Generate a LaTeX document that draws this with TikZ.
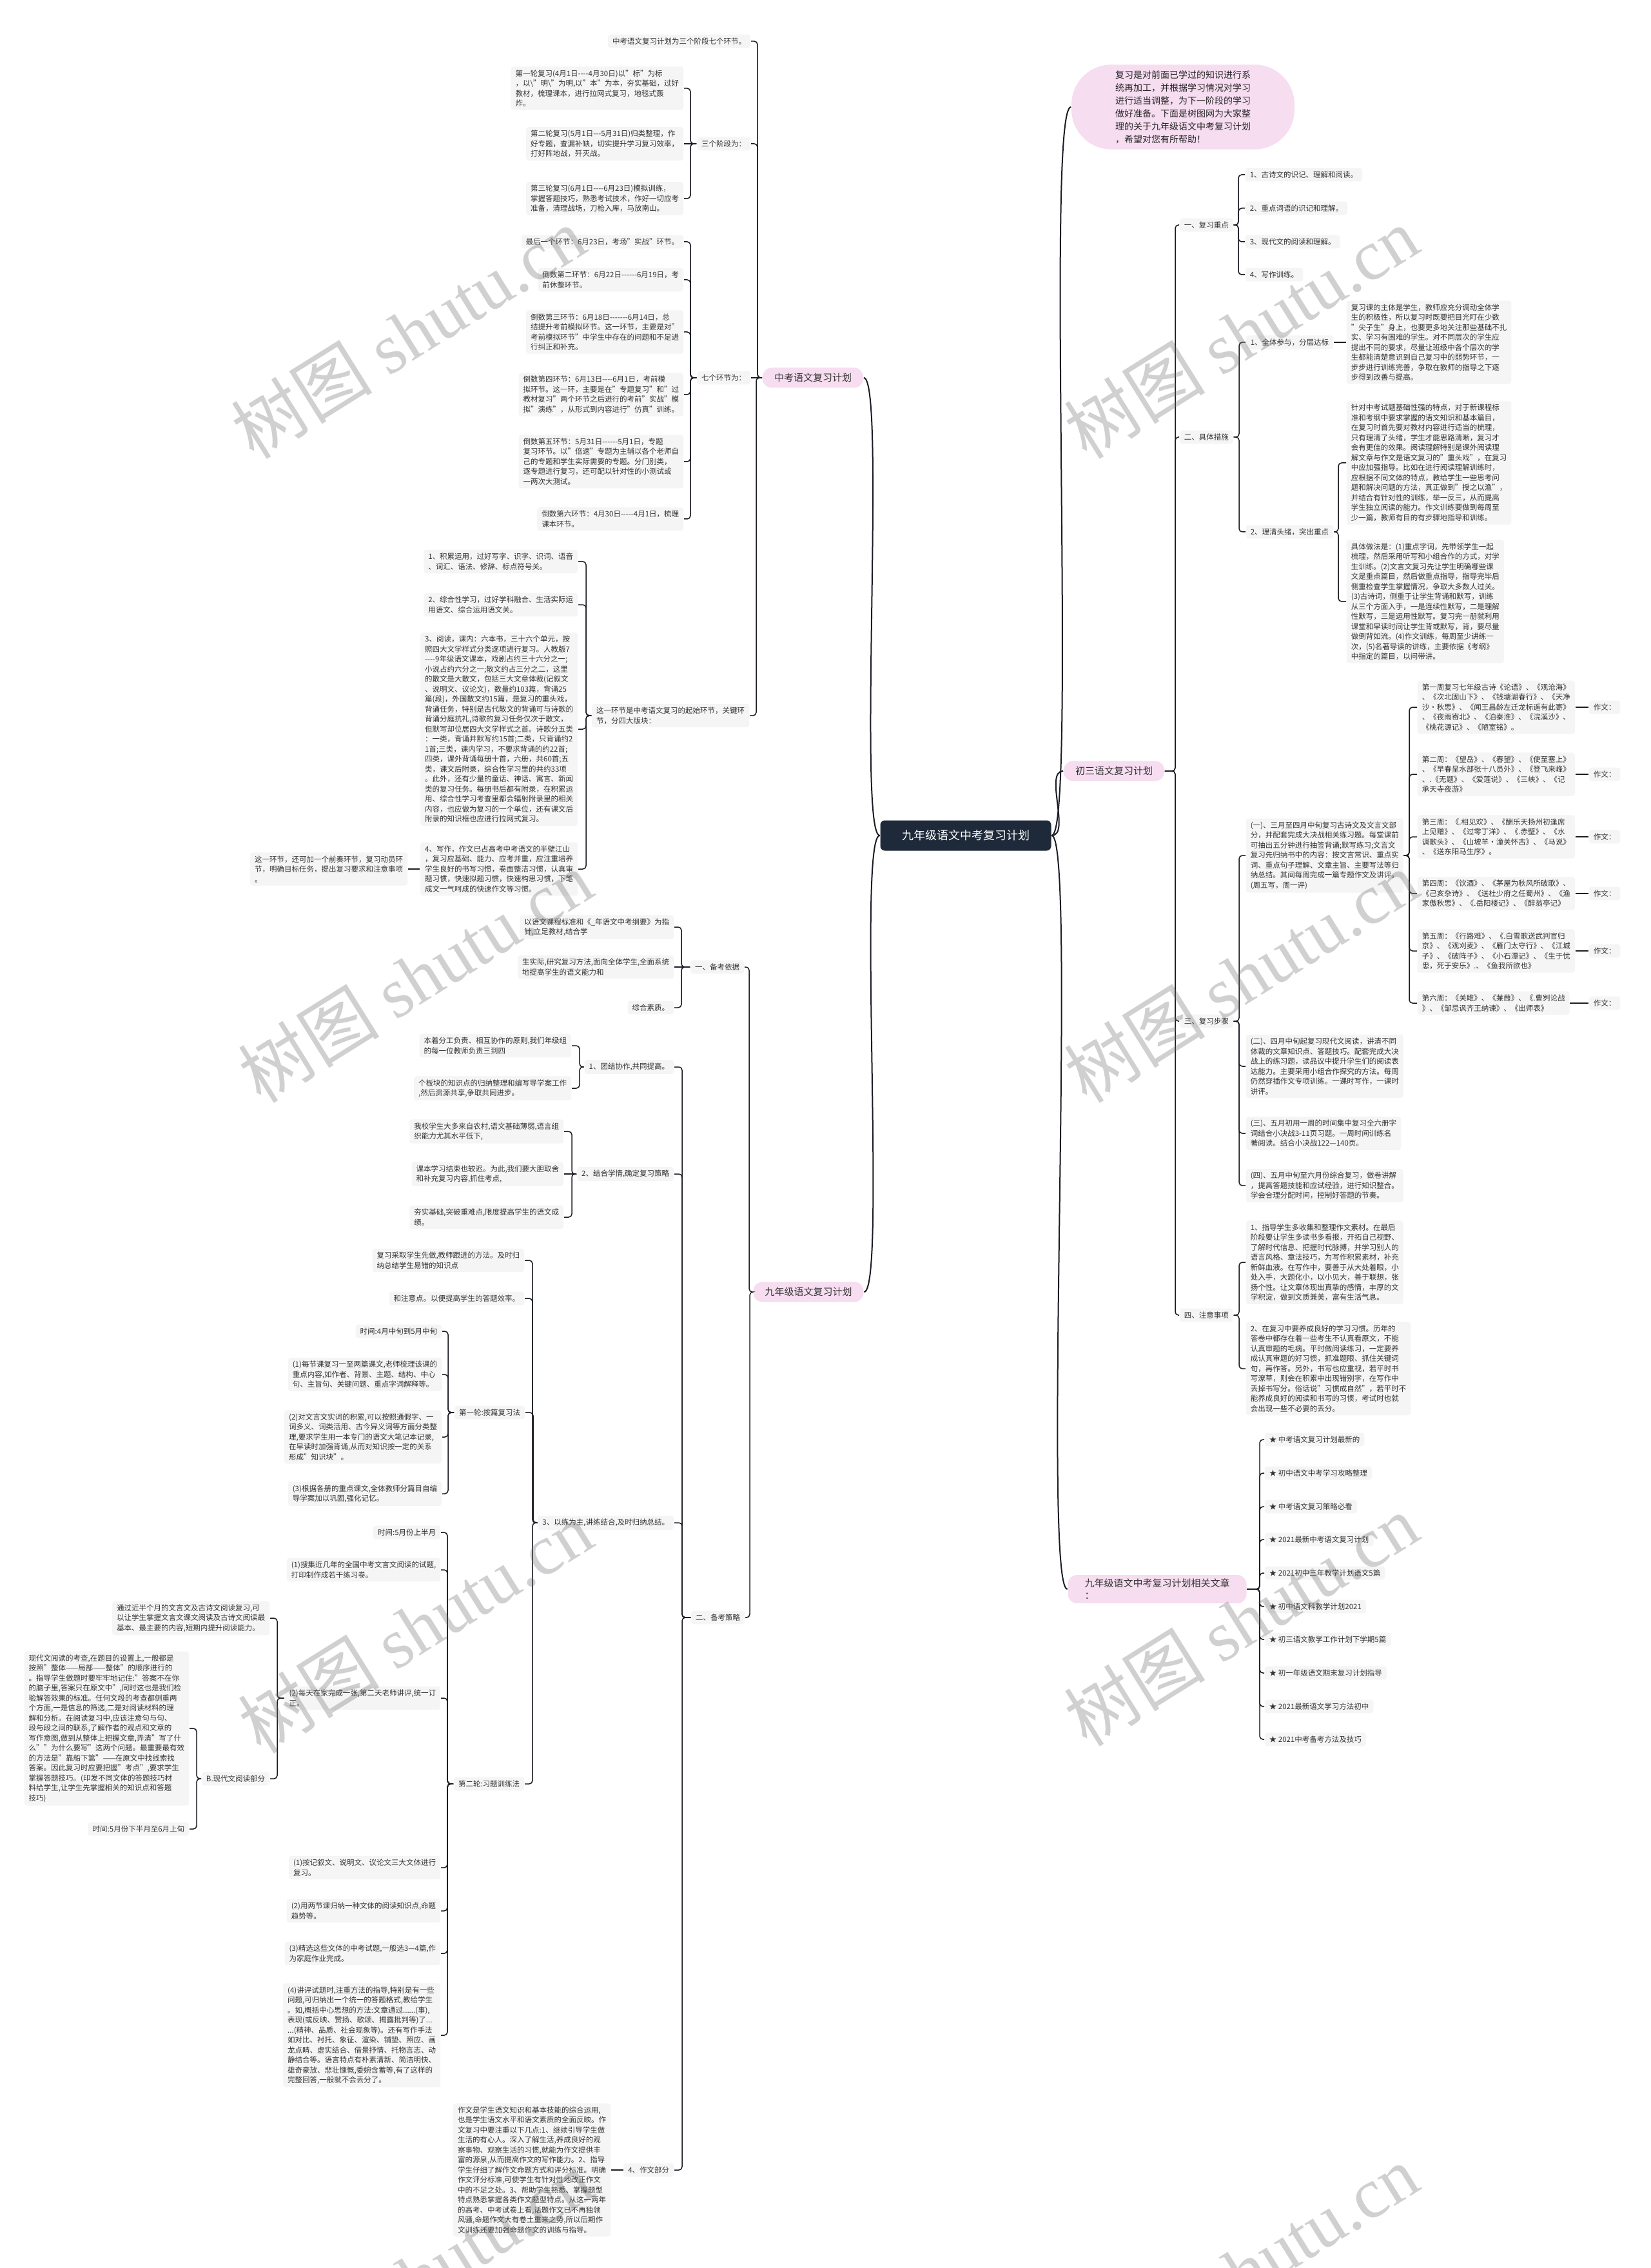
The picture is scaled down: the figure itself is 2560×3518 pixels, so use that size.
\documentclass[tikz,border=0pt]{standalone}
\usepackage{fontspec}
\setmainfont{Noto Sans CJK SC}
\newfontfamily\wmfont{Liberation Serif}
\usepackage{tikz}
\definecolor{leafc}{HTML}{F5F5F5}
\definecolor{pinkc}{HTML}{F6DDF0}
\definecolor{rootc}{HTML}{1E2A3A}
\definecolor{linec}{HTML}{1A1D24}
\definecolor{txtc}{HTML}{333333}
\begin{document}
\begin{tikzpicture}[x=0.25pt, y=-0.25pt,
    leaf/.style={fill=leafc, text=txtc, rounded corners=1pt, inner xsep=1.75pt, inner ysep=1.25pt, align=left, font=\fontsize{2.875}{3.875}\selectfont},
    lfl/.style={leaf, anchor=east},
    lfr/.style={leaf, anchor=west},
    branch/.style={fill=pinkc, text=txtc, rounded corners=3.5pt, inner xsep=4.5pt, inner ysep=1.5pt, minimum height=7.75pt, align=left, font=\fontsize{3.75}{4.75}\selectfont},
    topic/.style={fill=rootc, text=white, rounded corners=1.75pt, minimum width=66.25pt, minimum height=11.75pt, font=\fontsize{4.5}{5.5}\selectfont},
    intro/.style={fill=pinkc, text=black!85, rounded corners=15.5pt, inner xsep=17pt, inner ysep=2.25pt, align=left, font=\fontsize{3.5}{5}\selectfont},
    every edge/.style={draw=linec, line width=0.375pt, rounded corners=1.25pt},
    toL/.style={to path={(\tikztostart.west) -| ([xshift=0.25*#1]\tikztotarget.east) -- (\tikztotarget.east)}},
    toR/.style={to path={(\tikztostart.east) -| ([xshift=-0.25*#1]\tikztotarget.west) -- (\tikztotarget.west)}},
    sL/.style={to path={(\tikztostart.west) -- (\tikztotarget.east)}},
    sR/.style={to path={(\tikztostart.east) -- (\tikztotarget.west)}},
    rootL/.style={line width=0.5pt, to path={(\tikztostart.west) .. controls ([xshift=-0.25*#1]\tikztostart.west) and ([xshift=0.25*#1]\tikztotarget.east) .. (\tikztotarget.east)}},
    rootR/.style={line width=0.5pt, to path={(\tikztostart.east) .. controls ([xshift=0.25*#1]\tikztostart.east) and ([xshift=-0.25*#1]\tikztotarget.west) .. (\tikztotarget.west)}},
    wmark/.style={rotate=32, text=black!60, text opacity=0.3, font=\fontsize{27.5}{30}\selectfont}]
\useasboundingbox (0,0) rectangle (2560,3518);
\fill[white] (0,0) rectangle (2560,3518);
\node[topic] (root) at (1498,1296) {九年级语文中考复习计划};
\node[branch] (zk) at (1261,586) {中考语文复习计划};
\node[branch] (jn) at (1254,2004) {九年级语文复习计划};
\node[branch] (cs) at (1728,1196) {初三语文复习计划};
\node[branch, inner xsep=6.5pt] (xg) at (1795,2465) {九年级语文中考复习计划相关文章\\：};
\node[intro] (yin) at (1835,166) {复习是对前面已学过的知识进行系\\统再加工，并根据学习情况对学习\\进行适当调整，为下一阶段的学习\\做好准备。下面是树图网为大家整\\理的关于九年级语文中考复习计划\\，希望对您有所帮助！};
\node[lfl] (zka) at (1165,64) {中考语文复习计划为三个阶段七个环节。};
\node[lfl] (zkb) at (1165,223) {三个阶段为：};
\node[lfl] (zkc) at (1165,586) {七个环节为：};
\node[lfl] (zkd) at (1163,1110) {这一环节是中考语文复习的起始环节，关键环\\节，分四大版块：};
\node[lfl] (b1) at (1061,137) {第一轮复习(4月1日-{}-{}-{}-4月30日)以"标"为标\\，以\textbackslash"明\textbackslash"为明,以"本"为本，夯实基础，过好\\教材，梳理课本，进行拉网式复习，地毯式轰\\炸。};
\node[lfl] (b2) at (1061,223) {第二轮复习(5月1日-{}-{}-5月31日)归类整理，作\\好专题，查漏补缺，切实提升学习复习效率，\\打好阵地战，歼灭战。};
\node[lfl] (b3) at (1061,308) {第三轮复习(6月1日-{}-{}-{}-6月23日)模拟训练，\\掌握答题技巧，熟悉考试技术，作好一切应考\\准备，清理战场，刀枪入库，马放南山。};
\node[lfl] (c1) at (1061,375) {最后一个环节：6月23日，考场"实战"环节。};
\node[lfl] (c2) at (1061,434) {倒数第二环节：6月22日-{}-{}-{}-{}-{}-6月19日，考\\前休整环节。};
\node[lfl] (c3) at (1061,515) {倒数第三环节：6月18日-{}-{}-{}-{}-{}-{}-6月14日，总\\结提升考前模拟环节。这一环节，主要是对"\\考前模拟环节"中学生中存在的问题和不足进\\行纠正和补充。};
\node[lfl] (c4) at (1061,612) {倒数第四环节：6月13日-{}-{}-{}-6月1日，考前模\\拟环节。这一环，主要是在"专题复习"和"过\\教材复习"两个环节之后进行的考前"实战"模\\拟"演练"，从形式到内容进行"仿真"训练。};
\node[lfl] (c5) at (1061,716) {倒数第五环节：5月31日-{}-{}-{}-{}-{}-5月1日，专题\\复习环节。以"倍速"专题为主辅以各个老师自\\己的专题和学生实际需要的专题。分门别类，\\逐专题进行复习，还可配以针对性的小测试或\\一两次大测试。};
\node[lfl] (c6) at (1061,805) {倒数第六环节：4月30日-{}-{}-{}-{}-4月1日，梳理\\课本环节。};
\node[lfl] (d1) at (897,871) {1、积累运用，过好写字、识字、识词、语音\\、词汇、语法、修辞、标点符号关。};
\node[lfl] (d2) at (897,938) {2、综合性学习，过好学科融合、生活实际运\\用语文、综合运用语文关。};
\node[lfl] (d3) at (897,1131) {3、阅读，课内：六本书，三十六个单元，按\\照四大文学样式分类逐项进行复习。人教版7\\-{}-{}-{}-9年级语文课本，戏剧占约三十六分之一;\\小说占约六分之一;散文约占三分之二，这里\\的散文是大散文，包括三大文章体裁(记叙文\\、说明文、议论文)，数量约103篇，背诵25\\篇(段)，外国散文约15篇，是复习的重头戏，\\背诵任务，特别是古代散文的背诵可与诗歌的\\背诵分庭抗礼,诗歌的复习任务仅次于散文，\\但默写却位居四大文学样式之首。诗歌分五类\\：一类，背诵并默写约15首;二类，只背诵约2\\1首;三类，课内学习，不要求背诵的约22首;\\四类，课外背诵每册十首，六册，共60首;五\\类，课文后附录，综合性学习里的共约33项\\。此外，还有少量的童话、神话、寓言、新闻\\类的复习任务。每册书后都有附录，在积累运\\用、综合性学习考查里都会辐射附录里的相关\\内容，也应做为复习的一个单位，还有课文后\\附录的知识框也应进行拉网式复习。};
\node[lfl] (d4) at (897,1348) {4、写作，作文已占高考中考语文的半壁江山\\，复习应基础、能力、应考并重，应注重培养\\学生良好的书写习惯，卷面整洁习惯，认真审\\题习惯，快速拟题习惯，快速构思习惯，下笔\\成文一气呵成的快速作文等习惯。};
\node[lfl] (d5) at (633,1348) {这一环节，还可加一个前奏环节，复习动员环\\节，明确目标任务，提出复习要求和注意事项\\。};
\node[lfl] (jna) at (1155,1500) {一、备考依据};
\node[lfl] (jnb) at (1156,2509) {二、备考策略};
\node[lfl] (e1) at (1046,1438) {以语文课程标准和《\_年语文中考纲要》为指\\针,立足教材,结合学};
\node[lfl] (e2) at (1046,1500) {生实际,研究复习方法,面向全体学生,全面系统\\地提高学生的语文能力和};
\node[lfl] (e3) at (1046,1563) {综合素质。};
\node[lfl] (f1) at (1046,1655) {1、团结协作,共同提高。};
\node[lfl] (f2) at (1046,1821) {2、结合学情,确定复习策略};
\node[lfl] (f3) at (1046,2362) {3、以练为主,讲练结合,及时归纳总结。};
\node[lfl] (f4) at (1046,3366) {4、作文部分};
\node[lfl] (f1a) at (887,1622) {本着分工负责、相互协作的原则,我们年级组\\的每一位教师负责三到四};
\node[lfl] (f1b) at (887,1688) {个板块的知识点的归纳整理和编写导学案工作\\,然后资源共享,争取共同进步。};
\node[lfl] (f2a) at (875,1755) {我校学生大多来自农村,语文基础薄弱,语言组\\织能力尤其水平低下,};
\node[lfl] (f2b) at (875,1821) {课本学习结束也较迟。为此,我们要大胆取舍\\和补充复习内容,抓住考点,};
\node[lfl] (f2c) at (875,1888) {夯实基础,突破重难点,限度提高学生的语文成\\绩。};
\node[lfl] (h1) at (814,1955) {复习采取学生先做,教师跟进的方法。及时归\\纳总结学生易错的知识点};
\node[lfl] (h2) at (814,2014) {和注意点。以便提高学生的答题效率。};
\node[lfl] (h3) at (815,2191) {第一轮:按篇复习法};
\node[lfl] (h4) at (814,2767) {第二轮:习题训练法};
\node[lfl] (i0) at (686,2065) {时间:4月中旬到5月中旬};
\node[lfl] (i1) at (686,2132) {(1)每节课复习一至两篇课文,老师梳理该课的\\重点内容,如作者、背景、主题、结构、中心\\句、主旨句、关键问题、重点字词解释等。};
\node[lfl] (i2) at (686,2229) {(2)对文言文实词的积累,可以按照通假字、一\\词多义、词类活用、古今异义词等方面分类整\\理,要求学生用一本专门的语文大笔记本记录,\\在早读时加强背诵,从而对知识按一定的关系\\形成"知识块"。};
\node[lfl] (i3) at (686,2317) {(3)根据各册的重点课文,全体教师分篇目自编\\导学案加以巩固,强化记忆。};
\node[lfl] (j0) at (684,2377) {时间:5月份上半月};
\node[lfl] (j1) at (684,2435) {(1)搜集近几年的全国中考文言文阅读的试题,\\打印制作成若干练习卷。};
\node[lfl] (j2) at (684,2634) {(2)每天在家完成一张,第二天老师讲评,统一订\\正。};
\node[lfl] (k1) at (419,2510) {通过近半个月的文言文及古诗文阅读复习,可\\以让学生掌握文言文课文阅读及古诗文阅读最\\基本、最主要的内容,短期内提升阅读能力。};
\node[lfl] (k2) at (419,2759) {B.现代文阅读部分};
\node[lfl] (l1) at (294,2681) {现代文阅读的考查,在题目的设置上,一般都是\\按照"整体——局部——整体"的顺序进行的\\。指导学生做题时要牢牢地记住:"答案不在你\\的脑子里,答案只在原文中",同时这也是我们检\\验解答效果的标准。任何文段的考查都侧重两\\个方面,一是信息的筛选,二是对阅读材料的理\\解和分析。在阅读复习中,应该注意句与句、\\段与段之间的联系,了解作者的观点和文章的\\写作意图,做到从整体上把握文章,弄清"写了什\\么""为什么要写"这两个问题。最重要最有效\\的方法是"靠船下篙"——在原文中找线索找\\答案。因此复习时应要把握"考点",要求学生\\掌握答题技巧。(印发不同文体的答题技巧材\\料给学生,让学生先掌握相关的知识点和答题\\技巧)};
\node[lfl] (l2) at (294,2837) {时间:5月份下半月至6月上旬};
\node[lfl] (m1) at (684,2897) {(1)按记叙文、说明文、议论文三大文体进行\\复习。};
\node[lfl] (m2) at (684,2964) {(2)用两节课归纳一种文体的阅读知识点,命题\\趋势等。};
\node[lfl] (m3) at (684,3030) {(3)精选这些文体的中考试题,一般选3—4篇,作\\为家庭作业完成。};
\node[lfl] (m4) at (684,3157) {(4)讲评试题时,注重方法的指导,特别是有一些\\问题,可归纳出一个统一的答题格式,教给学生\\。如,概括中心思想的方法:文章通过......(事),\\表现(或反映、赞扬、歌颂、揭露批判等)了...\\...(精神、品质、社会现象等)。还有写作手法\\如对比、衬托、象征、渲染、铺垫、照应、画\\龙点睛、虚实结合、借景抒情、托物言志、动\\静结合等。语言特点有朴素清新、简洁明快、\\雄奇豪放、悲壮慷慨,委婉含蓄等,有了这样的\\完整回答,一般就不会丢分了。};
\node[lfl] (n1) at (948,3366) {作文是学生语文知识和基本技能的综合运用,\\也是学生语文水平和语文素质的全面反映。作\\文复习中要注重以下几点:1、继续引导学生做\\生活的有心人。深入了解生活,养成良好的观\\察事物、观察生活的习惯,就能为作文提供丰\\富的源泉,从而提高作文的写作能力。2、指导\\学生仔细了解作文命题方式和评分标准。明确\\作文评分标准,可使学生有针对性地改正作文\\中的不足之处。3、帮助学生熟悉、掌握题型\\特点熟悉掌握各类作文题型特点。从这一两年\\的高考、中考试卷上看,话题作文已不再独领\\风骚,命题作文大有卷土重来之势,所以后期作\\文训练还要加强命题作文的训练与指导。};
\node[lfr] (cs1) at (1829,349) {一、复习重点};
\node[lfr] (cs2) at (1829,678) {二、具体措施};
\node[lfr] (cs3) at (1829,1584) {三、复习步骤};
\node[lfr] (cs4) at (1829,2040) {四、注意事项};
\node[lfr] (p1) at (1931,271) {1、古诗文的识记、理解和阅读。};
\node[lfr] (p2) at (1931,323) {2、重点词语的识记和理解。};
\node[lfr] (p3) at (1931,375) {3、现代文的阅读和理解。};
\node[lfr] (p4) at (1931,426) {4、写作训练。};
\node[lfr] (q1) at (1932,531) {1、全体参与，分层达标};
\node[lfr] (q2) at (1932,825) {2、理清头绪，突出重点};
\node[lfr] (q1a) at (2088,531) {复习课的主体是学生，教师应充分调动全体学\\生的积极性，所以复习时既要把目光盯在少数\\"尖子生"身上，也要更多地关注那些基础不扎\\实、学习有困难的学生。对不同层次的学生应\\提出不同的要求，尽量让班级中各个层次的学\\生都能清楚意识到自己复习中的弱势环节，一\\步步进行训练完善，争取在教师的指导之下逐\\步得到改善与提高。};
\node[lfr] (q2a) at (2088,718) {针对中考试题基础性强的特点，对于新课程标\\准和考纲中要求掌握的语文知识和基本篇目，\\在复习时首先要对教材内容进行适当的梳理，\\只有理清了头绪，学生才能思路清晰，复习才\\会有更佳的效果。阅读理解特别是课外阅读理\\解文章与作文是语文复习的"重头戏"，在复习\\中应加强指导。比如在进行阅读理解训练时，\\应根据不同文体的特点，教给学生一些思考问\\题和解决问题的方法，真正做到"授之以渔"，\\并结合有针对性的训练，举一反三，从而提高\\学生独立阅读的能力。作文训练要做到每周至\\少一篇，教师有目的有步骤地指导和训练。};
\node[lfr] (q2b) at (2088,933) {具体做法是：(1)重点字词，先带领学生一起\\梳理，然后采用听写和小组合作的方式，对学\\生训练。(2)文言文复习先让学生明确哪些课\\文是重点篇目，然后做重点指导，指导完毕后\\侧重检查学生掌握情况，争取大多数人过关。\\(3)古诗词，侧重于让学生背诵和默写，训练\\从三个方面入手，一是连续性默写，二是理解\\性默写，三是运用性默写。复习完一册就利用\\课堂和早读时间让学生背或默写，背，要尽量\\做倒背如流。(4)作文训练，每周至少讲练一\\次，(5)名著导读的讲练，主要依据《考纲》\\中指定的篇目，以问带讲。};
\node[lfr] (r1) at (1932,1327) {(一)、三月至四月中旬复习古诗文及文言文部\\分，并配套完成大决战相关练习题。每堂课前\\可抽出五分钟进行抽签背诵;默写练习;文言文\\复习先归纳书中的内容：按文言常识、重点实\\词、重点句子理解、文章主旨、主要写法等归\\纳总结。其间每周完成一篇专题作文及讲评。\\(周五写，周一评)};
\node[lfr] (r2) at (1932,1654) {(二)、四月中旬起复习现代文阅读，讲清不同\\体裁的文章知识点、答题技巧。配套完成大决\\战上的练习题，读品议中提升学生们的阅读表\\达能力。主要采用小组合作探究的方法。每周\\仍然穿插作文专项训练。一课时写作，一课时\\讲评。};
\node[lfr] (r3) at (1932,1758) {(三)、五月初用一周的时间集中复习全六册字\\词结合小决战3-11页习题。一周时间训练名\\著阅读。结合小决战122—140页。};
\node[lfr] (r4) at (1932,1839) {(四)、五月中旬至六月份综合复习，做卷讲解\\，提高答题技能和应试经验，进行知识整合。\\学会合理分配时间，控制好答题的节奏。};
\node[lfr] (s1) at (2198,1097) {第一周复习七年级古诗《论语》、《观沧海》\\、《次北固山下》、《钱塘湖春行》、《天净\\沙·秋思》、《闻王昌龄左迁龙标遥有此寄》\\、《夜雨寄北》、《泊秦淮》、《浣溪沙》、\\《桃花源记》、《陋室铭》。};
\node[lfr] (s2) at (2198,1201) {第二周：《望岳》、《春望》、《使至塞上》\\、《早春呈水部张十八员外》、《登飞来峰》\\、.《无题》、《爱莲说》、《三峡》、《记\\承天寺夜游》};
\node[lfr] (s3) at (2198,1298) {第三周：《.相见欢》、《酬乐天扬州初逢席\\上见赠》、《过零丁洋》、《.赤壁》、《水\\调歌头》、《山坡羊·潼关怀古》、《马说》\\、《送东阳马生序》。};
\node[lfr] (s4) at (2198,1386) {第四周：《饮酒》、《茅屋为秋风所破歌》、\\《己亥杂诗》、《送杜少府之任蜀州》、《渔\\家傲秋思》、《.岳阳楼记》、《醉翁亭记》};
\node[lfr] (s5) at (2198,1475) {第五周：《行路难》、《.白雪歌送武判官归\\京》、《观刈麦》、《雁门太守行》、《江城\\子》、《破阵子》、《小石潭记》、《生于忧\\患，死于安乐》.、《鱼我所欲也》};
\node[lfr] (s6) at (2198,1556) {第六周：《关雎》、《蒹葭》、《.曹刿论战\\》、《邹忌讽齐王纳谏》、《出师表》};
\foreach \k/\y in {1/1097, 2/1201, 3/1298, 4/1386, 5/1475, 6/1556}
  \node[lfr] (w\k) at (2464,\y) {作文：};
\node[lfr] (t1) at (1932,1958) {1、指导学生多收集和整理作文素材。在最后\\阶段要让学生多读书多看报，开拓自己视野、\\了解时代信息、把握时代脉搏，并学习别人的\\语言风格、章法技巧，为写作积累素材，补充\\新鲜血液。在写作中，要善于从大处着眼，小\\处入手，大题化小，以小见大，善于联想，张\\扬个性。让文章体现出真挚的感情，丰厚的文\\学积淀，做到文质兼美，富有生活气息。};
\node[lfr] (t2) at (1932,2123) {2、在复习中要养成良好的学习习惯。历年的\\答卷中都存在着一些考生不认真看原文，不能\\认真审题的毛病。平时做阅读练习，一定要养\\成认真审题的好习惯，抓准题眼、抓住关键词\\句，再作答。另外，书写也应重视，若平时书\\写潦草，则会在积累中出现错别字，在写作中\\丢掉书写分。俗话说"习惯成自然"，若平时不\\能养成良好的阅读和书写的习惯，考试时也就\\会出现一些不必要的丢分。};
\node[lfr] (x1) at (1961,2233) {★ 中考语文复习计划最新的};
\node[lfr] (x2) at (1961,2285) {★ 初中语文中考学习攻略整理};
\node[lfr] (x3) at (1961,2337) {★ 中考语文复习策略必看};
\node[lfr] (x4) at (1961,2388) {★ 2021最新中考语文复习计划};
\node[lfr] (x5) at (1961,2440) {★ 2021初中三年教学计划语文5篇};
\node[lfr] (x6) at (1961,2492) {★ 初中语文科教学计划2021};
\node[lfr] (x7) at (1961,2543) {★ 初三语文教学工作计划下学期5篇};
\node[lfr] (x8) at (1961,2595) {★ 初一年级语文期末复习计划指导};
\node[lfr] (x9) at (1961,2647) {★ 2021最新语文学习方法初中};
\node[lfr] (x10) at (1961,2698) {★ 2021中考备考方法及技巧};
\path (root) edge[rootL=35] (zk)
      (root) edge[rootL=35] (jn)
      (root) edge[rootR=30] (cs)
      (root) edge[rootR=40] (xg)
      (root) edge[rootR=40] (yin);
\path (zk) edge[toL=10] (zka) edge[toL=10] (zkb) edge[sL] (zkc) edge[toL=10] (zkd)
      (zkb) edge[toL=10] (b1) edge[sL] (b2) edge[toL=10] (b3)
      (zkc) edge[toL=10] (c1) edge[toL=10] (c2) edge[toL=10] (c3) edge[toL=10] (c4) edge[toL=10] (c5) edge[toL=10] (c6)
      (zkd) edge[toL=12] (d1) edge[toL=12] (d2) edge[toL=12] (d3) edge[toL=12] (d4)
      (d4) edge[sL] (d5);
\path (jn) edge[toL=7] (jna) edge[toL=7] (jnb)
      (jna) edge[toL=11] (e1) edge[sL] (e2) edge[toL=11] (e3)
      (jnb) edge[toL=12] (f1) edge[toL=12] (f2) edge[toL=12] (f3) edge[toL=12] (f4)
      (f1) edge[toL=12] (f1a) edge[toL=12] (f1b)
      (f2) edge[toL=12] (f2a) edge[sL] (f2b) edge[toL=12] (f2c)
      (f3) edge[toL=12] (h1) edge[toL=12] (h2) edge[toL=12] (h3) edge[toL=12] (h4)
      (h3) edge[toL=9] (i0) edge[toL=9] (i1) edge[toL=9] (i2) edge[toL=9] (i3)
      (h4) edge[toL=10] (j0) edge[toL=10] (j1) edge[toL=10] (j2) edge[toL=10] (m1) edge[toL=10] (m2) edge[toL=10] (m3) edge[toL=10] (m4)
      (j2) edge[toL=11] (k1) edge[toL=11] (k2)
      (k2) edge[toL=11] (l1) edge[toL=11] (l2)
      (f4) edge[sL] (n1);
\path (cs) edge[toR=6] (cs1) edge[toR=6] (cs2) edge[toR=6] (cs3) edge[toR=6] (cs4)
      (cs1) edge[toR=10] (p1) edge[toR=10] (p2) edge[toR=10] (p3) edge[toR=10] (p4)
      (cs2) edge[toR=10] (q1) edge[toR=10] (q2)
      (q1) edge[sR] (q1a)
      (q2) edge[toR=12] (q2a) edge[toR=12] (q2b)
      (cs3) edge[toR=10] (r1) edge[toR=10] (r2) edge[toR=10] (r3) edge[toR=10] (r4)
      (r1) edge[toR=12] (s1) edge[toR=12] (s2) edge[toR=12] (s3) edge[toR=12] (s4) edge[toR=12] (s5) edge[toR=12] (s6)
      (cs4) edge[toR=10] (t1) edge[toR=10] (t2);
\foreach \k in {1,...,6}
  \path (s\k) edge[sR] (w\k);
\foreach \k in {1,...,10}
  \path (xg) edge[toR=7] (x\k);
\begin{scope}
\clip (0,0) rectangle (2560,3518);
\foreach \wx/\wy in {633/516, 1925/516, 644/1515, 1925/1515, 644/2524, 1925/2513, 644/3532, 1925/3522}
  \node[wmark] at (\wx,\wy) {树图 {\wmfont shutu.cn}};
\end{scope}
\end{tikzpicture}
\end{document}
